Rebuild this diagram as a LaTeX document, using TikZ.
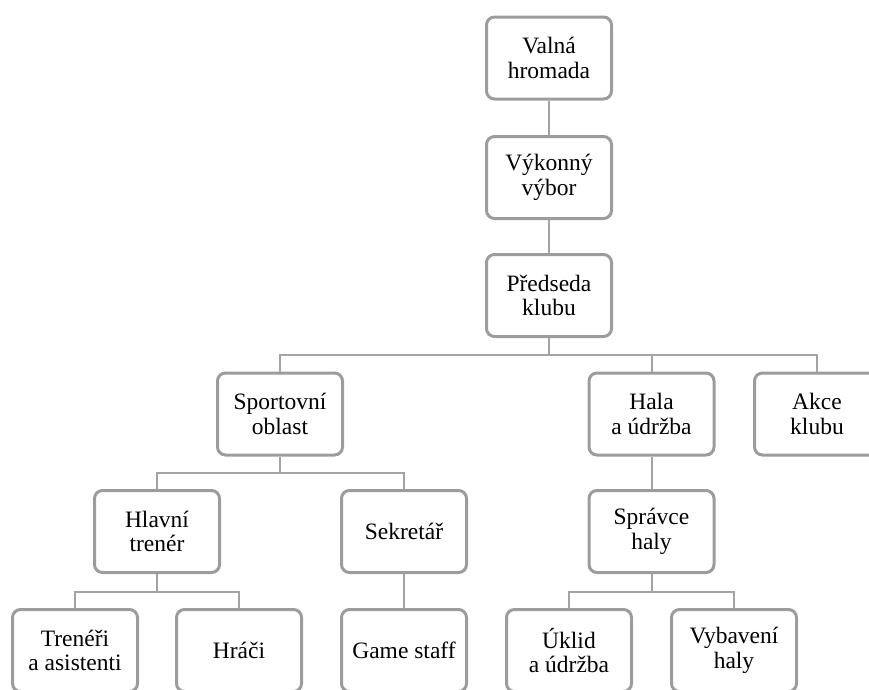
\documentclass[tikz,border=0pt]{standalone}
\usepackage{fontspec}
\setmainfont{Liberation Serif}
\definecolor{boxgray}{HTML}{9C9C9C}
\definecolor{linegray}{HTML}{A3A3A3}
\begin{document}
\begin{tikzpicture}[x=1pt,y=-1pt,
  orgbox/.style={draw=boxgray, line width=3pt, rounded corners=8pt, fill=white,
    minimum width=125pt, minimum height=82pt, inner sep=1pt, align=center,
    font=\fontsize{23.5}{24.5}\selectfont},
  conn/.style={draw=linegray, line width=2pt}]
\useasboundingbox (0,0) rectangle (869,689);
\clip (0,0) rectangle (869,689);

\node[orgbox] (valna)    at (549,58)    {Valná\\hromada};
\node[orgbox] (vykon)    at (549,177.5) {Výkonný\\výbor};
\node[orgbox] (predseda) at (549,295.5) {Předseda\\klubu};
\node[orgbox] (sport)    at (280,414)   {Sportovní\\oblast};
\node[orgbox] (hala)     at (651.5,414) {Hala\\a údržba};
\node[orgbox] (akce)     at (817,414)   {Akce\\klubu};
\node[orgbox] (hlavni)   at (157,531.5) {Hlavní\\trenér};
\node[orgbox] (sekretar) at (404,531.5) {Sekretář};
\node[orgbox] (spravce)  at (651.5,531.5) {Správce\\haly};
\node[orgbox] (treneri)  at (75,650.5)  {Trenéři\\a asistenti};
\node[orgbox] (hraci)    at (239,650.5) {Hráči};
\node[orgbox] (game)     at (404,650.5) {Game staff};
\node[orgbox] (uklid)    at (569,650.5) {Úklid\\a údržba};
\node[orgbox] (vybaveni) at (734,650.5) {Vybavení\\haly};

\coordinate (busA) at (0,355);
\coordinate (busB) at (0,472.5);
\coordinate (busC) at (0,592);

\draw[conn] (valna.south) -- (vykon.north);
\draw[conn] (vykon.south) -- (predseda.north);
\draw[conn] (predseda.south) -- (predseda.south |- busA) -| (sport.north);
\draw[conn] (predseda.south |- busA) -| (hala.north);
\draw[conn] (predseda.south |- busA) -| (akce.north);
\draw[conn] (hala.south) -- (spravce.north);
\draw[conn] (sport.south) -- (sport.south |- busB) -| (hlavni.north);
\draw[conn] (sport.south |- busB) -| (sekretar.north);
\draw[conn] (hlavni.south) -- (hlavni.south |- busC) -| (treneri.north);
\draw[conn] (hlavni.south |- busC) -| (hraci.north);
\draw[conn] (sekretar.south) -- (game.north);
\draw[conn] (spravce.south) -- (spravce.south |- busC) -| (uklid.north);
\draw[conn] (spravce.south |- busC) -| (vybaveni.north);
\end{tikzpicture}
\end{document}
